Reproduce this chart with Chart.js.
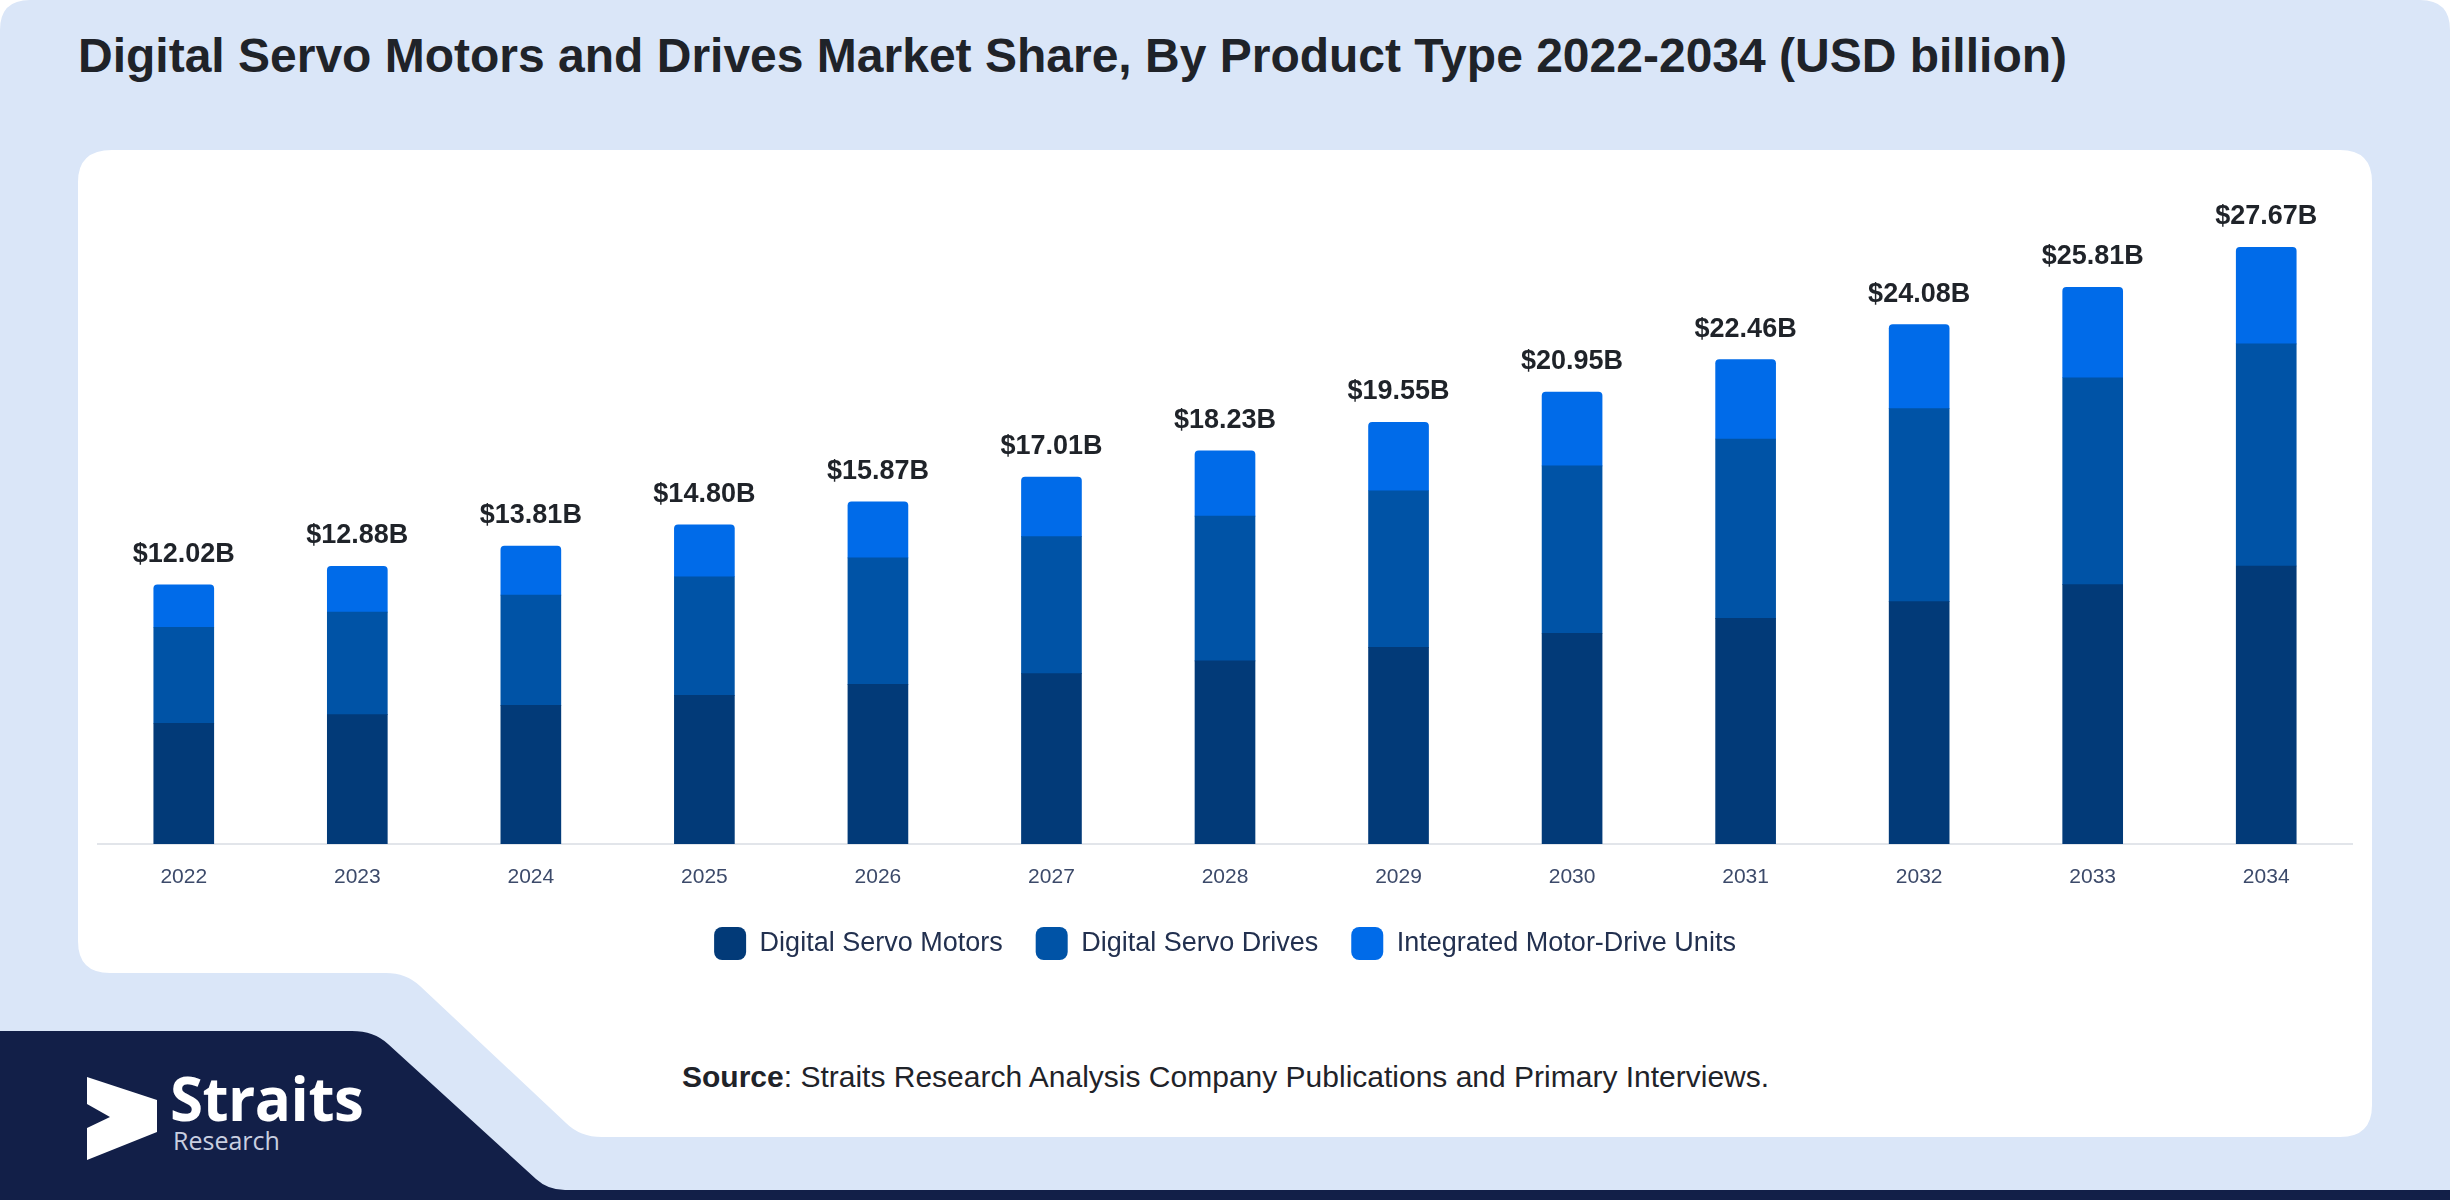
<!DOCTYPE html>
<html>
<head>
<meta charset="utf-8">
<title>Digital Servo Motors and Drives Market Share</title>
<script src="https://cdn.jsdelivr.net/npm/chart.js@4.4.1/dist/chart.umd.min.js"></script>
<style>
  html, body { margin: 0; padding: 0; background: #fff; }
  body { width: 2450px; height: 1200px; position: relative; overflow: hidden; font-family: "Liberation Sans", Arial, sans-serif; }
  #bg { position: absolute; left: 0; top: 0; }
  h1 {
    position: absolute; left: 78px; top: 28px; margin: 0;
    font: bold 48px "Liberation Sans", Arial, sans-serif; color: #1f2329; white-space: nowrap;
  }
  #chart-wrap { position: absolute; left: 97px; top: 150px; width: 2256px; height: 820px; }
  .source {
    position: absolute; left: 682px; top: 1060px;
    font: 30px "Liberation Sans", Arial, sans-serif; color: #1f2329; white-space: nowrap;
  }
  .logo-text { position: absolute; left: 170px; top: 1068px; color: #fff; font-family: "Open Sans", "Noto Sans", sans-serif; }
  .logo-text .big { font-size: 60px; font-weight: 700; line-height: 60px; letter-spacing: -0.5px; }
  .logo-text .small { font-size: 25px; line-height: 25px; color: #c9cfe0; margin-left: 3px; }
</style>
</head>
<body>

<!-- page background: light panel, navy footer block, white card with notch -->
<svg id="bg" width="2450" height="1200" viewBox="0 0 2450 1200">
  <rect x="0" y="1020" width="2450" height="180" fill="#121f48"/>
  <path d="M30,0 H2420 Q2450,0 2450,30 V1190 H565 Q548,1190 536,1179 L388,1044 Q374,1031 352,1031 H0 V30 Q0,0 30,0 Z" fill="#dae6f8"/>
  <path d="M112,150 H2340 Q2372,150 2372,182 V1105 Q2372,1137 2340,1137 H602 Q580,1137 566,1123 L420,986 Q406,973 386,973 H110 Q78,973 78,941 V182 Q78,150 112,150 Z" fill="#ffffff"/>
  <polygon points="87,1077 157,1100 157,1132 87,1160 87,1128 110,1117 87,1104" fill="#ffffff"/>
</svg>

<h1>Digital Servo Motors and Drives Market Share, By Product Type 2022-2034 (USD billion)</h1>

<div id="chart-wrap"><canvas id="chart"></canvas></div>

<div class="logo-text"><div class="big">Straits</div><div class="small">Research</div></div>

<div class="source"><b>Source</b>: Straits Research Analysis Company Publications and Primary Interviews.</div>

<script>
// Categories and series (USD billion)
const years = ['2022', '2023', '2024', '2025', '2026', '2027', '2028', '2029', '2030', '2031', '2032', '2033', '2034'];
const servoMotors = [5.60, 6.00, 6.43, 6.89, 7.40, 7.90, 8.49, 9.12, 9.77, 10.46, 11.24, 12.03, 12.89];
const servoDrives = [4.45, 4.75, 5.11, 5.50, 5.87, 6.35, 6.71, 7.26, 7.76, 8.32, 8.95, 9.59, 10.30];
const integratedUnits = [1.97, 2.13, 2.27, 2.41, 2.60, 2.76, 3.03, 3.17, 3.42, 3.68, 3.89, 4.19, 4.48];
const totals = [12.02, 12.88, 13.81, 14.80, 15.87, 17.01, 18.23, 19.55, 20.95, 22.46, 24.08, 25.81, 27.67];

const seriesNames = ['Digital Servo Motors', 'Digital Servo Drives', 'Integrated Motor-Drive Units'];
const seriesColors = ['#023a78', '#0053a6', '#006be9'];

// Draws the "$xx.xxB" total above each stacked column
const totalLabels = {
  id: 'totalLabels',
  afterDatasetsDraw(chart) {
    const meta = chart.getDatasetMeta(chart.data.datasets.length - 1);
    const ctx = chart.ctx;
    ctx.save();
    ctx.font = 'bold 27px "Liberation Sans", Arial, sans-serif';
    ctx.fillStyle = '#1f2329';
    ctx.textAlign = 'center';
    ctx.textBaseline = 'alphabetic';
    meta.data.forEach((bar, i) => {
      ctx.fillText('$' + totals[i].toFixed(2) + 'B', bar.x, bar.y - 23);
    });
    ctx.restore();
  }
};

const datasets = [servoMotors, servoDrives, integratedUnits].map((values, i) => ({
  label: seriesNames[i],
  data: values,
  backgroundColor: seriesColors[i],
  borderWidth: 0,
  borderRadius: 4,
  barThickness: 60,
}));

new Chart(document.getElementById('chart'), {
  type: 'bar',
  data: { labels: years, datasets },
  options: {
    responsive: true,
    maintainAspectRatio: false,
    animation: false,
    layout: { padding: { top: 47, left: 0, right: 0, bottom: 0 } },
    plugins: {
      tooltip: { enabled: false },
      legend: {
        position: 'bottom',
        labels: {
          font: { family: '"Liberation Sans", Arial, sans-serif', size: 27 },
          color: '#22304f',
          boxWidth: 32,
          boxHeight: 33,
          useBorderRadius: true,
          borderRadius: 8,
          padding: 33,
        },
      },
    },
    scales: {
      x: {
        stacked: true,
        grid: { display: false },
        border: { display: true, color: '#e2e5ea', width: 2 },
        ticks: {
          font: { family: '"Liberation Sans", Arial, sans-serif', size: 21 },
          color: '#3c4a6a',
          padding: 13,
        },
        afterFit(scale) { scale.height = 50; },
      },
      y: {
        stacked: true,
        display: false,
        min: 0,
        max: 30,
      },
    },
  },
  plugins: [totalLabels],
});
</script>
</body>
</html>
